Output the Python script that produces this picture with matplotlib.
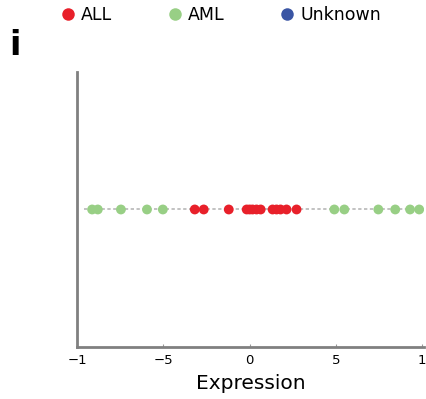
import matplotlib
matplotlib.use("Agg")
import matplotlib.pyplot as plt
from matplotlib.lines import Line2D

all_vals = [-3.18, -2.66, -1.21, -0.17, 0.0, 0.17, 0.4, 0.64, 1.33, 1.56, 1.79, 2.14, 2.72]
aml_vals = [-9.13, -8.8, -7.46, -5.95, -5.03, 4.91, 5.49, 7.46, 8.44, 9.3, 9.83]
tick_pos = [-10, -5, 0, 5, 10]
tick_labels = ["\u22121", "\u22125", "0", "5", "1"]
legend_labels = ["ALL", "AML", "Unknown"]
colors = ["#E8202A", "#98CF85", "#3A55A4"]

fig = plt.figure(figsize=(4.26, 3.99), dpi=100)
ax = fig.add_axes([0.181, 0.130, 0.814, 0.690])

ax.hlines(1, -9.6, 10, colors="#b8b8b8", linestyles=(0, (2, 1.5)), linewidth=1.2, zorder=1)
ax.scatter(aml_vals, [1] * len(aml_vals), s=50, color=colors[1], edgecolors="none", zorder=2)
ax.scatter(all_vals, [1] * len(all_vals), s=50, color=colors[0], edgecolors="none", zorder=3)

ax.set_xlim(-10, 10.1)
ax.set_ylim(0, 2)
ax.set_xticks(tick_pos)
ax.set_xticklabels(tick_labels, fontsize=9.5)
ax.set_yticks([])
ax.tick_params(axis="x", direction="in", length=2, color="#999999", pad=5)
for s in ["top", "right"]:
    ax.spines[s].set_visible(False)
for s in ["left", "bottom"]:
    ax.spines[s].set_color("#808080")
    ax.spines[s].set_linewidth(2)
ax.set_xlabel("Expression", fontsize=14.5, labelpad=5)

handles = [Line2D([], [], marker="o", linestyle="none", markersize=9,
                  markerfacecolor=c, markeredgecolor="none") for c in colors]
fig.legend(handles, legend_labels, loc="center", bbox_to_anchor=(0.515, 0.962), ncol=3,
           frameon=False, fontsize=12.5, handletextpad=0.15, columnspacing=3.0,
           handlelength=1.2)

fig.text(0.022, 0.885, "i", fontsize=24, fontweight="bold", va="center", ha="left")

fig.savefig("out.png", dpi=100)
